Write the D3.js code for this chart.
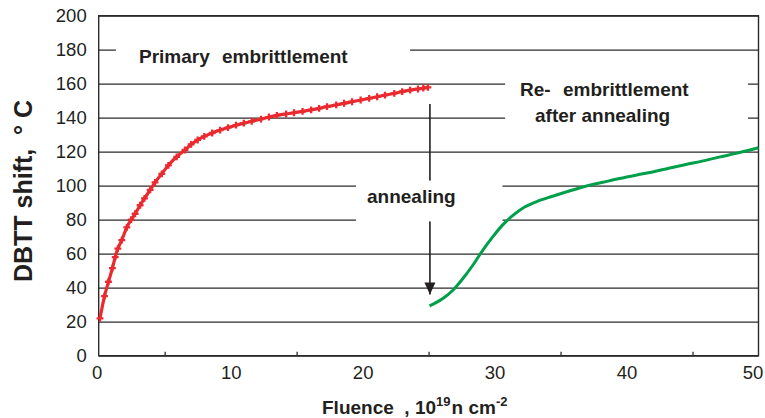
<!DOCTYPE html>
<html>
<head>
<meta charset="utf-8">
<script src="https://cdn.jsdelivr.net/npm/d3@7"></script>
<style>
  body { margin: 0; background: #fff; }
  text { font-family: "Liberation Sans", Arial, sans-serif; fill: #231f20; }
</style>
</head>
<body>
<div id="vis"></div>
<script>
// frame
const FRAME_HEIGHT = 418;
const FRAME_WIDTH = 765;
const MARGINS = {left: 98.7, right: 6.5, top: 15.7, bottom: 62.3};

const VIS_HEIGHT = FRAME_HEIGHT - MARGINS.top - MARGINS.bottom;
const VIS_WIDTH = FRAME_WIDTH - MARGINS.left - MARGINS.right;

// data
const Y_TICKS = [0, 20, 40, 60, 80, 100, 120, 140, 160, 180, 200];
const X_TICKS = [0, 10, 20, 30, 40, 50];
const X_MINOR = [5, 15, 25, 35, 45];

// primary embrittlement (red)
const PRIMARY_X = [0.1, 0.44, 0.74, 1.04, 1.25, 1.45, 1.75, 2.13, 2.46, 2.76, 3.14, 3.47,
  3.9, 4.27, 4.78, 5.28, 5.91, 6.54, 7.0, 7.5, 8.0, 8.6, 9.2, 9.8, 10.4, 11.0, 11.6,
  12.3, 12.9, 13.5, 14.2, 14.8, 15.45, 16.1, 16.7, 17.3, 18.0, 18.6, 19.2, 19.85, 20.5,
  21.1, 21.7, 22.4, 23.0, 23.6, 24.2, 24.6, 24.95];
const PRIMARY_Y = [22, 35, 43.5, 51.5, 58, 63, 68, 75.5, 80, 83.5, 88.5, 92.5,
  97.5, 102, 107, 112, 117, 121, 124.3, 126.9, 129, 131, 132.7, 134.2, 135.6, 136.8, 137.9,
  139.2, 140.4, 141.4, 142.2, 142.9, 143.7, 144.6, 145.5, 146.5, 147.5, 148.5, 149.4, 150.4, 151.4,
  152.3, 153.3, 154.3, 155.3, 156.2, 156.9, 157.4, 157.8];

// re-embrittlement after annealing (green)
const REEMB_X = [25.07, 26.08, 26.84, 27.6, 28.35, 29.1, 29.86, 30.6, 31.25, 32.1, 33.15,
  34.4, 35.66, 36.9, 38.2, 39.45, 40.7, 41.97, 43.2, 44.5, 45.8, 47.0, 48.3, 49.2, 50];
const REEMB_Y = [29.3, 33.6, 38.5, 45.4, 53.2, 62, 69.9, 76.8, 81.6, 86.6, 90.5,
  93.8, 96.9, 99.7, 102, 104.2, 106.2, 108.1, 110.3, 112.5, 114.6, 116.8, 119, 120.7, 122.3];

// annealing arrow: fluence, from / to shift
const ARROW_X = 25.1;
const ARROW_FROM = 148;
const ARROW_TO = 36;

const FRAME = d3.select("#vis")
                .append("svg")
                  .attr("width", FRAME_WIDTH)
                  .attr("height", FRAME_HEIGHT);

const X_SCALE = d3.scaleLinear()
                    .domain([0, 50])
                    .range([MARGINS.left, MARGINS.left + VIS_WIDTH]);

const Y_SCALE = d3.scaleLinear()
                    .domain([0, 200])
                    .range([MARGINS.top + VIS_HEIGHT, MARGINS.top]);

// horizontal grid lines
FRAME.append("g")
    .attr("transform", "translate(" + MARGINS.left + ",0)")
    .call(d3.axisLeft(Y_SCALE).tickValues(Y_TICKS).tickSize(-VIS_WIDTH).tickFormat(""))
    .call(g => g.select(".domain").remove())
    .call(g => g.selectAll("line").attr("stroke", "#2b2b2b").attr("stroke-width", 1.3));

// annealing arrow (line + head)
const ARROW_PX = X_SCALE(ARROW_X);
FRAME.append("line")
    .attr("x1", ARROW_PX).attr("x2", ARROW_PX)
    .attr("y1", Y_SCALE(ARROW_FROM)).attr("y2", Y_SCALE(ARROW_TO))
    .attr("stroke", "#231f20").attr("stroke-width", 1.6);
FRAME.append("path")
    .attr("d", "M" + (ARROW_PX - 5.5) + "," + (Y_SCALE(ARROW_TO) - 12)
      + "L" + (ARROW_PX + 5.5) + "," + (Y_SCALE(ARROW_TO) - 12)
      + "L" + ARROW_PX + "," + Y_SCALE(ARROW_TO) + "Z")
    .attr("fill", "#231f20");

// white text boxes that hide the grid behind the labels
const BOXES = [
  {x0: 1.3, x1: 23.6, y0: 190, y1: 165},
  {x0: 30.8, x1: 49.2, y0: 168, y1: 130},
  {x0: 19.5, x1: 30.6, y0: 103, y1: 79}
];
FRAME.selectAll(".box")
    .data(BOXES)
    .enter()
    .append("rect")
      .attr("class", "box")
      .attr("x", d => X_SCALE(d.x0))
      .attr("y", d => Y_SCALE(d.y0))
      .attr("width", d => X_SCALE(d.x1) - X_SCALE(d.x0))
      .attr("height", d => Y_SCALE(d.y1) - Y_SCALE(d.y0))
      .attr("fill", "#fff");

// plot frame
FRAME.append("rect")
    .attr("x", MARGINS.left).attr("y", MARGINS.top)
    .attr("width", VIS_WIDTH).attr("height", VIS_HEIGHT)
    .attr("fill", "none").attr("stroke", "#2b2b2b").attr("stroke-width", 1.4);

// y axis labels
FRAME.append("g")
    .attr("transform", "translate(" + MARGINS.left + ",0)")
    .call(d3.axisLeft(Y_SCALE).tickValues(Y_TICKS).tickSize(0).tickPadding(12))
    .call(g => g.select(".domain").remove())
    .call(g => g.selectAll("text")
        .attr("font-size", "18.5px")
        .attr("font-family", "Liberation Sans, Arial, sans-serif")
        .attr("fill", "#231f20"));

// x axis: small inward ticks every 5, labels every 10
const X_BASE = MARGINS.top + VIS_HEIGHT;
FRAME.append("g")
    .attr("transform", "translate(0," + X_BASE + ")")
    .call(d3.axisBottom(X_SCALE).tickValues(X_MINOR).tickSize(-4).tickFormat(""))
    .call(g => g.select(".domain").remove())
    .call(g => g.selectAll("line").attr("stroke", "#2b2b2b").attr("stroke-width", 1.3));

FRAME.append("g")
    .attr("transform", "translate(0," + X_BASE + ")")
    .call(d3.axisBottom(X_SCALE).tickValues(X_TICKS).tickSize(0).tickPadding(10))
    .call(g => g.select(".domain").remove())
    .call(g => g.selectAll("text")
        .attr("font-size", "18.5px")
        .attr("font-family", "Liberation Sans, Arial, sans-serif")
        .attr("fill", "#231f20")
        .attr("dx", d => d === 50 ? -6 : (d === 0 ? -2 : 0)));

// curves
const PRIMARY = PRIMARY_X.map((x, i) => ({x: x, y: PRIMARY_Y[i]}));
const REEMB = REEMB_X.map((x, i) => ({x: x, y: REEMB_Y[i]}));

const LINE = d3.line()
    .x(d => X_SCALE(d.x))
    .y(d => Y_SCALE(d.y))
    .curve(d3.curveMonotoneX);

FRAME.append("path")
    .datum(PRIMARY)
    .attr("d", LINE)
    .attr("fill", "none")
    .attr("stroke", "#ea2a2f")
    .attr("stroke-width", 3.2);

FRAME.selectAll(".mark")
    .data(PRIMARY)
    .enter()
    .append("path")
      .attr("class", "mark")
      .attr("d", d3.symbol(d3.symbolCross).size(26))
      .attr("transform", d => "translate(" + X_SCALE(d.x) + "," + Y_SCALE(d.y) + ")")
      .attr("fill", "#ea2a2f");

FRAME.append("path")
    .datum(REEMB)
    .attr("d", LINE)
    .attr("fill", "none")
    .attr("stroke", "#00a04b")
    .attr("stroke-width", 3);

// labels
const LABEL = (x, y, txt) => FRAME.append("text")
    .attr("x", x).attr("y", y)
    .attr("font-size", "19px")
    .attr("font-weight", "bold")
    .style("white-space", "pre")
    .text(txt);

LABEL(139, 62.5, "Primary");
LABEL(222, 62.5, "embrittlement");
LABEL(520, 96, "Re-");
LABEL(563, 96, "embrittlement");
LABEL(535, 122, "after annealing");
LABEL(367, 203, "annealing");

// y axis title
FRAME.append("text")
    .attr("transform", "translate(32,191) rotate(-90)")
    .attr("text-anchor", "middle")
    .attr("font-size", "25px")
    .attr("font-weight", "bold")
    .style("white-space", "pre")
    .text("DBTT shift,  ° C");

// x axis title
const XT = FRAME.append("text")
    .attr("x", 322)
    .attr("y", 414)
    .attr("font-size", "19px")
    .attr("font-weight", "bold")
    .style("white-space", "pre");
XT.append("tspan").text("Fluence  , 10");
XT.append("tspan").attr("dy", -8).attr("font-size", "13px").text("19");
XT.append("tspan").attr("dy", 8).attr("dx", 1).text("n cm");
XT.append("tspan").attr("dy", -8).attr("font-size", "13px").text("-2");
</script>
</body>
</html>
